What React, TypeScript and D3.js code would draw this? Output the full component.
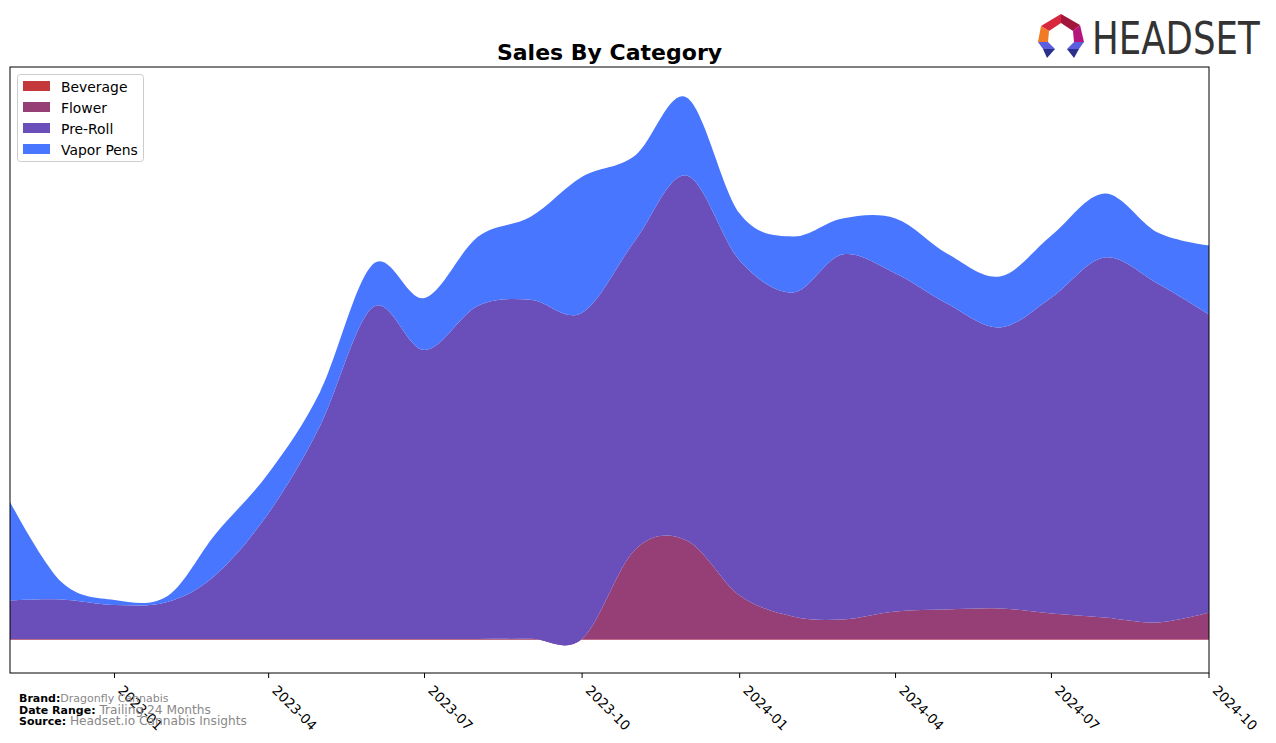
import React from "react";
import * as d3 from "d3";

const months = [
  "2022-11", "2022-12", "2023-01", "2023-02", "2023-03", "2023-04", "2023-05", "2023-06",
  "2023-07", "2023-08", "2023-09", "2023-10", "2023-11", "2023-12", "2024-01", "2024-02",
  "2024-03", "2024-04", "2024-05", "2024-06", "2024-07", "2024-08", "2024-09", "2024-10",
];
const categories = ["Beverage", "Flower", "Pre-Roll", "Vapor Pens"];
const beverage = [0.6, 0.6, 0.6, 0.6, 0.6, 0.6, 0.6, 0.6, 0.6, 0.6, 0.6, 0.6, 0.6, 0.6, 0.6, 0.6, 0.6, 0.6, 0.6, 0.6, 0.6, 0.6, 0.6, 0.6];
const flower = [0.4, 0.4, 0.4, 0.4, 0.4, 0.4, 0.4, 0.4, 0.4, 0.4, 0.6, 0.6, 90, 99, 44, 23, 20, 28, 30, 31, 26, 22, 17, 27];
const preRoll = [38.5, 39.5, 34, 37, 64, 126, 213, 332, 289, 333, 339, 326, 309, 365, 335, 324, 365, 338, 306, 281, 316, 360, 339, 298];
const vaporPens = [98.5, 17.5, 5, 6, 41, 40, 34, 43, 52, 69, 83, 136, 85, 78, 47, 56, 36, 55, 50, 51, 62, 64, 51, 69];
const tickLabels = ["2023-01", "2023-04", "2023-07", "2023-10", "2024-01", "2024-04", "2024-07", "2024-10"];
const colors = ["#c4373b", "#963f77", "#6a4fbb", "#4876fe"];

const W = 1276;
const H = 743;
const plot = { left: 10, right: 1209, top: 67, bottom: 673 };

export default function App() {
  const parse = d3.timeParse("%Y-%m");
  const dates = months.map((m) => parse(m) as Date);
  const x = d3
    .scaleTime()
    .domain([dates[0], dates[dates.length - 1]])
    .range([plot.left, plot.right]);
  const y = d3.scaleLinear().domain([-33, 573]).range([plot.bottom, plot.top]);

  const rows = dates.map((d, i) => ({
    date: d,
    Beverage: beverage[i],
    Flower: flower[i],
    "Pre-Roll": preRoll[i],
    "Vapor Pens": vaporPens[i],
  }));
  const series = d3.stack<any>().keys(categories)(rows);
  const area = d3
    .area<any>()
    .x((d) => x(d.data.date))
    .y0((d) => y(d[0]))
    .y1((d) => y(d[1]))
    .curve(d3.curveCardinal.tension(0));

  const font = "'DejaVu Sans', sans-serif";

  return (
    <svg width={W} height={H} style={{ position: "absolute", left: 0, top: 0 }} fontFamily={font}>
      <rect x={0} y={0} width={W} height={H} fill="#fff" />
      <defs>
        <clipPath id="plotclip">
          <rect x={plot.left} y={plot.top} width={plot.right - plot.left} height={plot.bottom - plot.top} />
        </clipPath>
      </defs>
      <g clipPath="url(#plotclip)">
        {series.map((s, i) => (
          <path key={s.key} d={area(s as any) || ""} fill={colors[i]} />
        ))}
      </g>
      <rect
        x={plot.left}
        y={plot.top}
        width={plot.right - plot.left}
        height={plot.bottom - plot.top}
        fill="none"
        stroke="#000"
        strokeWidth={1}
      />
      {tickLabels.map((t) => {
        const tx = x(parse(t) as Date);
        return (
          <g key={t}>
            <line x1={tx} x2={tx} y1={plot.bottom} y2={plot.bottom + 5} stroke="#000" />
            <text
              transform={`translate(${tx + 10},${plot.bottom + 11}) rotate(45)`}
              fontSize={13.5}
              dominantBaseline="hanging"
              fill="#000"
            >
              {t}
            </text>
          </g>
        );
      })}
      <text x={(plot.left + plot.right) / 2} y={60} textAnchor="middle" fontSize={22} fontWeight="bold">
        Sales By Category
      </text>
      <g>
        <rect x={17.5} y={74.5} width={126} height={87} rx={3} fill="#fff" fillOpacity={0.8} stroke="#ccc" />
        {categories.map((c, i) => (
          <g key={c}>
            <rect x={23} y={81 + i * 21} width={27} height={10} fill={colors[i]} />
            <text x={61} y={91.5 + i * 21} fontSize={13.9} fill="#000">
              {c}
            </text>
          </g>
        ))}
      </g>
      <g fontSize={11}>
        <text x={19} y={701.5}>
          <tspan fontWeight="bold">Brand:</tspan>
          <tspan fill="#888">Dragonfly Cannabis</tspan>
        </text>
        <text x={19} y={713.5}>
          <tspan fontWeight="bold">Date Range: </tspan>
          <tspan fill="#888" fontSize={12.2}>Trailing 24 Months</tspan>
        </text>
        <text x={19} y={725}>
          <tspan fontWeight="bold">Source: </tspan>
          <tspan fill="#888" fontSize={12.2}>Headset.io Cannabis Insights</tspan>
        </text>
      </g>
      <g>
        <polygon points="1041,26 1061,14 1061,23 1049,31" fill="#d7263d" />
        <polygon points="1061,14 1080,25 1073,31 1061,23" fill="#a3163c" />
        <polygon points="1041,26 1049,31 1048,42 1038,42" fill="#f07a26" />
        <polygon points="1080,25 1084,42 1074,42 1073,31" fill="#b5157a" />
        <polygon points="1038,42 1048,42 1055,49 1043,49" fill="#5c5ee0" />
        <polygon points="1043,49 1055,49 1047,58" fill="#2b2f8c" />
        <polygon points="1074,42 1084,42 1079,49 1067,49" fill="#5c5ee0" />
        <polygon points="1067,49 1079,49 1074,58" fill="#2b2f8c" />
        <text
          transform="translate(1092,54) scale(0.79,1)"
          fontSize={45}
          fill="#333"
          fontFamily="'DejaVu Sans', sans-serif"
        >
          HEADSET
        </text>
      </g>
    </svg>
  );
}
